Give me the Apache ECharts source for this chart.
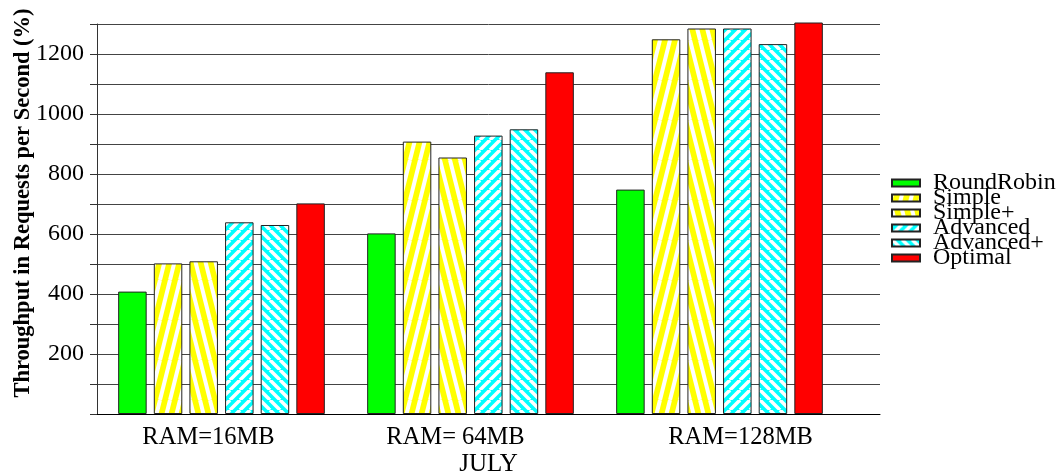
<!DOCTYPE html>
<html>
<head>
<meta charset="utf-8">
<script src="https://cdn.jsdelivr.net/npm/echarts@6/dist/echarts.min.js"></script>
<style>
html, body { margin: 0; padding: 0; background: #fff; }
#chart { width: 1063px; height: 473px; }
</style>
</head>
<body>
<div id="chart"></div>
<script>
const categories = ['RAM=16MB', 'RAM= 64MB', 'RAM=128MB'];
const seriesNames = ['RoundRobin', 'Simple', 'Simple+', 'Advanced', 'Advanced+', 'Optimal'];
const roundRobin = [408, 602, 748];
const simple = [502, 908, 1249];
const simplePlus = [509, 855, 1285];
const advanced = [639, 928, 1285];
const advancedPlus = [630, 949, 1233];
const optimal = [702, 1139, 1305];

// the original labels are not quite centred under their groups
const labelShift = [-13, -15, 21];

// striped fill: dir 1 = "/", -1 = "\"
function stripes(bg, w, h, lw, dir) {
    let c = document.createElement('canvas');
    c.width = w;
    c.height = h;
    let ctx = c.getContext('2d');
    ctx.fillStyle = bg;
    ctx.fillRect(0, 0, w, h);
    ctx.strokeStyle = '#fff';
    ctx.lineWidth = lw;
    for (let k = -2; k <= 2; k++) {
        ctx.beginPath();
        if (dir > 0) {
            ctx.moveTo(k * w, h);
            ctx.lineTo(k * w + w, 0);
        } else {
            ctx.moveTo(k * w, 0);
            ctx.lineTo(k * w + w, h);
        }
        ctx.stroke();
    }
    return { image: c, repeat: 'repeat' };
}

const fills = [
    '#00ff00',
    stripes('#ffff00', 10, 40, 4, 1),
    stripes('#ffff00', 10, 40, 4, -1),
    stripes('#00ffff', 10, 10, 3.5, 1),
    stripes('#00ffff', 10, 10, 3.5, -1),
    '#ff0000'
];
const values = [roundRobin, simple, simplePlus, advanced, advancedPlus, optimal];

const font = 'Liberation Serif';
let myChart = echarts.init(document.getElementById('chart'));

const option = {
    animation: false,
    textStyle: { fontFamily: font, color: '#000' },
    grid: [
        { left: 97, right: 183, top: 24, bottom: 59, outerBoundsMode: 'none' },
        { left: 97, right: 219, top: 24, bottom: 59, outerBoundsMode: 'none' }
    ],
    xAxis: [
        {
            gridIndex: 0,
            type: 'value',
            min: 0,
            max: 1,
            axisLine: { show: true, lineStyle: { color: '#000', width: 1 } },
            axisTick: { show: false },
            axisLabel: { show: false },
            splitLine: { show: false },
            name: 'JULY',
            nameLocation: 'middle',
            nameGap: 38,
            nameTextStyle: { fontFamily: font, fontSize: 25, color: '#000' }
        },
        {
            gridIndex: 1,
            type: 'category',
            data: categories.map(function (c, i) {
                let s = labelShift[i];
                return {
                    value: c,
                    textStyle: { padding: s < 0 ? [0, -2 * s, 0, 0] : [0, 0, 0, 2 * s] }
                };
            }),
            axisLine: { show: false },
            axisTick: { show: false },
            axisLabel: { fontFamily: font, fontSize: 24.5, color: '#000', margin: 11 }
        }
    ],
    yAxis: [
        {
            gridIndex: 0,
            type: 'value',
            min: 0,
            max: 1300,
            interval: 100,
            name: 'Throughput in Requests per Second (%)',
            nameLocation: 'middle',
            nameRotate: 90,
            nameGap: 62,
            nameMoveOverlap: false,
            nameTextStyle: {
                fontFamily: font, fontSize: 22.5, fontWeight: 'bold', color: '#000',
                padding: [0, 0, 0, 32]
            },
            axisLine: { show: true, lineStyle: { color: '#333' } },
            axisTick: { show: true, inside: false, length: 7, lineStyle: { color: '#333' } },
            axisLabel: {
                fontFamily: font, fontSize: 24, color: '#000', margin: 13,
                formatter: function (v) {
                    return (v > 0 && v < 1300 && v % 200 === 0) ? String(v) : '';
                }
            },
            // grid lines every 100
            splitLine: { show: true, lineStyle: { color: '#444', width: 1 } }
        },
        {
            gridIndex: 1,
            type: 'value',
            min: 0,
            max: 1300,
            show: false,
            splitLine: { show: false }
        }
    ],
    legend: {
        orient: 'vertical',
        left: 886,
        top: 166,
        itemWidth: 28,
        itemHeight: 7,
        itemGap: -9,
        icon: 'rect',
        data: seriesNames,
        textStyle: {
            fontFamily: font, fontSize: 24, color: '#000',
            padding: [0, 0, 0, 8]
        }
    },
    series: seriesNames.map(function (name, i) {
        return {
            name: name,
            type: 'bar',
            xAxisIndex: 1,
            yAxisIndex: 1,
            barGap: '25%',
            barCategoryGap: '17%',
            clip: false,
            itemStyle: {
                color: fills[i],
                borderColor: '#222',
                borderWidth: 1
            },
            data: values[i]
        };
    })
};
myChart.setOption(option);
</script>
</body>
</html>
